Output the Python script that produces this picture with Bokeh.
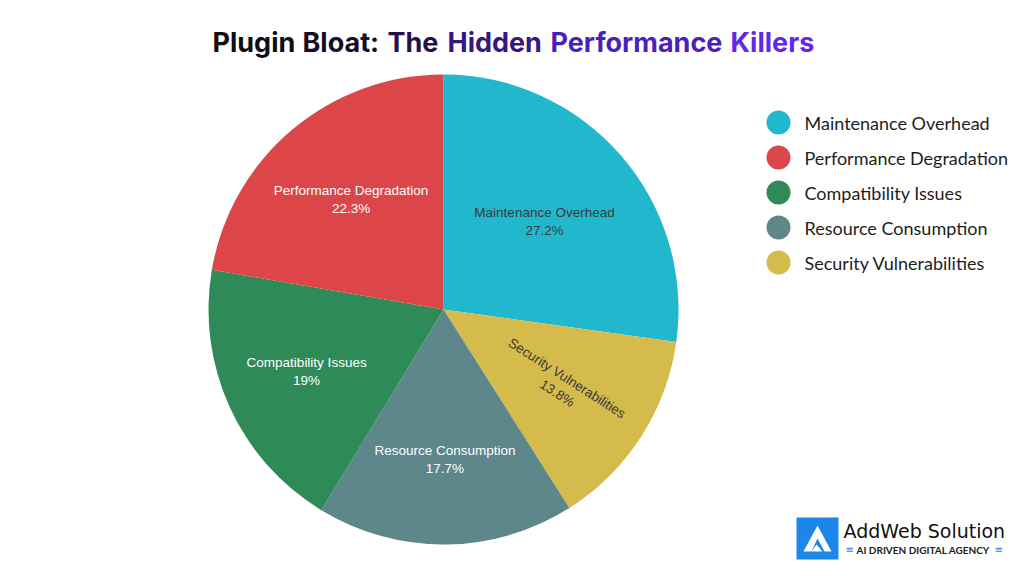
import numpy as np
from bokeh.plotting import figure
from bokeh.models import ColumnDataSource, Range1d
from bokeh.core.properties import value
from bokeh.embed import file_html
from bokeh.resources import INLINE

# ---- data ----
categories = ["Maintenance Overhead", "Security Vulnerabilities", "Resource Consumption",
              "Compatibility Issues", "Performance Degradation"]
shares = [27.2, 13.8, 17.7, 19.0, 22.3]
share_labels = ["27.2%", "13.8%", "17.7%", "19%", "22.3%"]
colors = ["#21b8ce", "#d4bb4c", "#5e878c", "#2e8a57", "#dc4649"]
legend_order = ["Maintenance Overhead", "Performance Degradation", "Compatibility Issues",
                "Resource Consumption", "Security Vulnerabilities"]
title_words = ["Plugin", "Bloat:", "The", "Hidden", "Performance", "Killers"]

# ---- style ----
label_colors = ["#3a3a3a", "#3a3a3a", "#ffffff", "#ffffff", "#ffffff"]
rotate_label = [False, True, False, False, False]
label_radius = [0.57, 0.60, 0.64, 0.64, 0.61]
title_colors = ["#0d0d12", "#150c26", "#251048", "#37167f", "#4b1fbb", "#6228ea"]
title_x = [212, 302, 387, 447, 550, 730]

W, H = 1016, 568
p = figure(width=W, height=H, x_range=Range1d(0, W), y_range=Range1d(0, H),
           output_backend="svg", toolbar_location=None, min_border=0)
p.axis.visible = False
p.grid.visible = False
p.outline_line_color = None
p.background_fill_color = "white"
p.border_fill_color = "white"

def Y(page_y):
    return H - page_y

def X(page_x):
    return page_x

# ---- pie ----
cx, cy, R = X(443), Y(309), 235
fr = np.array(shares) / sum(shares)
cum = np.concatenate([[0.0], np.cumsum(fr)])
start = np.pi / 2 - 2 * np.pi * cum[:-1]
end = np.pi / 2 - 2 * np.pi * cum[1:]
src = ColumnDataSource(dict(start=start, end=end, color=colors))
p.wedge(x=cx, y=cy, radius=R, start_angle="start", end_angle="end", direction="clock",
        fill_color="color", line_color=None, source=src)

mid = (cum[:-1] + cum[1:]) / 2
theta = np.pi / 2 - 2 * np.pi * mid
lr = np.array(label_radius) * R
lx = cx + lr * np.cos(theta)
ly = cy + lr * np.sin(theta)
ang = [t if rot else 0.0 for t, rot in zip(theta, rotate_label)]
ltxt = [f"{c}\n{s}" for c, s in zip(categories, share_labels)]
lsrc = ColumnDataSource(dict(x=lx, y=ly, t=ltxt, a=ang, c=label_colors))
p.text(x="x", y="y", text="t", angle="a", text_color="c", source=lsrc,
       text_font=value("Liberation Sans"), text_font_size="13.5px",
       text_align="center", text_baseline="middle", text_line_height=1.2)

# ---- legend ----
leg_y = [Y(122 + 35 * i) for i in range(len(legend_order))]
leg_col = [colors[categories.index(c)] for c in legend_order]
p.scatter(x=[X(778)] * len(legend_order), y=leg_y, size=24, fill_color=leg_col, line_color=None)
p.text(x=[X(804)] * len(legend_order), y=leg_y, text=legend_order, text_color="#1e1e1e",
       text_font=value("Lato"), text_font_size="18px", text_baseline="middle", text_align="left")

# ---- title (gradient approximated per word) ----
p.text(x=[X(v) for v in title_x], y=[Y(42)] * len(title_words), text=title_words,
       text_color=title_colors, text_font=value("Inter"), text_font_style="bold",
       text_font_size="27px", text_baseline="middle", text_align="left")

# ---- logo ----
p.quad(left=X(796), right=X(838), top=Y(517), bottom=Y(559), fill_color="#1c87e6", line_color=None)
p.patch(x=[X(803), X(817), X(831), X(824), X(817), X(811)],
        y=[Y(551), Y(525), Y(551), Y(551), Y(538), Y(551)], fill_color="white", line_color=None)
p.patch(x=[X(811), X(822), X(816)], y=[Y(551), Y(551), Y(544)], fill_color="white", line_color=None)
p.text(x=[X(843)], y=[Y(530)], text=["AddWeb Solution"], text_color="#111111",
       text_font=value("DejaVu Sans"), text_font_size="19px", text_baseline="middle")
p.text(x=[X(856)], y=[Y(549)], text=["AI DRIVEN DIGITAL AGENCY"], text_color="#1a1a1a",
       text_font=value("Lato"), text_font_style="bold", text_font_size="10px", text_baseline="middle")
p.text(x=[X(845), X(994)], y=[Y(549), Y(549)], text=["≡", "≡"], text_color="#1c87e6",
       text_font=value("DejaVu Sans"), text_font_size="10px", text_baseline="middle")

open("out.html", "w").write(file_html(p, INLINE))
